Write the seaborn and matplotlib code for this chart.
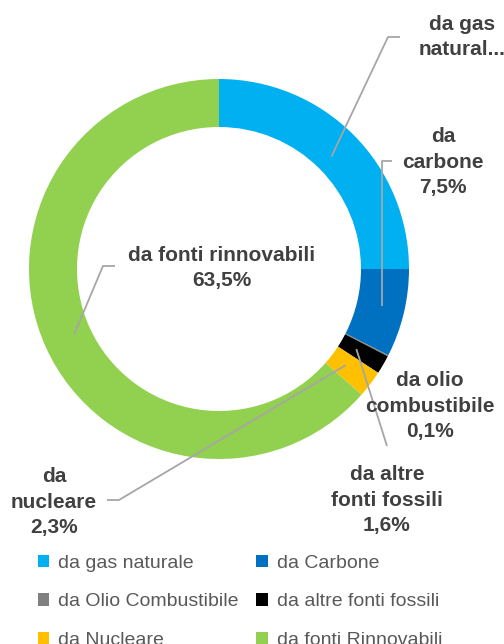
import numpy as np
import matplotlib
matplotlib.use("Agg")
import matplotlib.pyplot as plt
from matplotlib.patches import Patch
import seaborn as sns

# data
categories = ["da gas naturale", "da Carbone", "da Olio Combustibile",
              "da altre fonti fossili", "da Nucleare", "da fonti Rinnovabili"]
shares = [25.0, 7.5, 0.1, 1.6, 2.3, 63.5]
colors = ["#00B0F0", "#0070C0", "#808080", "#000000", "#FFC000", "#92D050"]
label_texts = ["da gas\nnatural...", "da\ncarbone\n7,5%", "da olio\ncombustibile\n0,1%",
               "da altre\nfonti fossili\n1,6%", "da\nnucleare\n2,3%",
               "da fonti rinnovabili\n63,5%"]

sns.set_theme(style="white")
plt.rcParams["font.family"] = ["Liberation Sans", "DejaVu Sans"]

W, H = 504, 644
fig = plt.figure(figsize=(W / 100, H / 100), dpi=100)
ax = fig.add_axes([0, 0, 1, 1])


def py(y):
    # pixel row from top -> data y
    return H - y


cx, cy, R, ring = 219, 269, 190, 48
wedges, _ = ax.pie(shares, colors=colors, startangle=90, counterclock=False,
                   radius=R, center=(cx, py(cy)),
                   wedgeprops=dict(width=ring, edgecolor="none"), frame=True)
ax.set_xlim(0, W)
ax.set_ylim(0, H)
ax.set_aspect("equal")
ax.axis("off")

# label positions (pixels, centre of text block)
label_pos = [(462, 37), (443, 162), (430, 406), (387, 500), (54, 502), (222, 268)]
# leader line elbows (pixels); None = no line
elbows = [[(388, 37), (400, 37)],
          [(382, 161), (392, 161)],
          None,
          [(387, 446)],
          [(119, 500), (107, 500)],
          [(103, 266), (115, 266)]]

mid_r = R - ring / 2 - 7
for w, txt, pos, elb in zip(wedges, label_texts, label_pos, elbows):
    if elb is not None:
        ang = np.deg2rad((w.theta1 + w.theta2) / 2)
        sx = cx + mid_r * np.cos(ang)
        sy = cy - mid_r * np.sin(ang)
        if elb[0][0] == 382:
            sx = 382
        xs = [sx] + [p[0] for p in elb]
        ys = [py(sy)] + [py(p[1]) for p in elb]
        ax.plot(xs, ys, color="#A6A6A6", lw=1.3, solid_capstyle="butt")
    ax.text(pos[0], py(pos[1]), txt, ha="center", va="center", fontsize=15,
            fontweight="bold", color="#404040", linespacing=1.42)

# legend, row-wise order
handles = [Patch(facecolor=c, edgecolor="none") for c in colors]
order = [0, 2, 4, 1, 3, 5]
fig.legend([handles[i] for i in order], [categories[i] for i in order],
           loc="upper left", bbox_to_anchor=(30 / W, 1 - 547 / H), ncol=2,
           frameon=False, fontsize=14, labelcolor="#595959",
           handlelength=0.6, handleheight=0.6, handletextpad=0.45,
           columnspacing=0.9, labelspacing=1.1, borderaxespad=0)

fig.savefig("out.png", dpi=100)
